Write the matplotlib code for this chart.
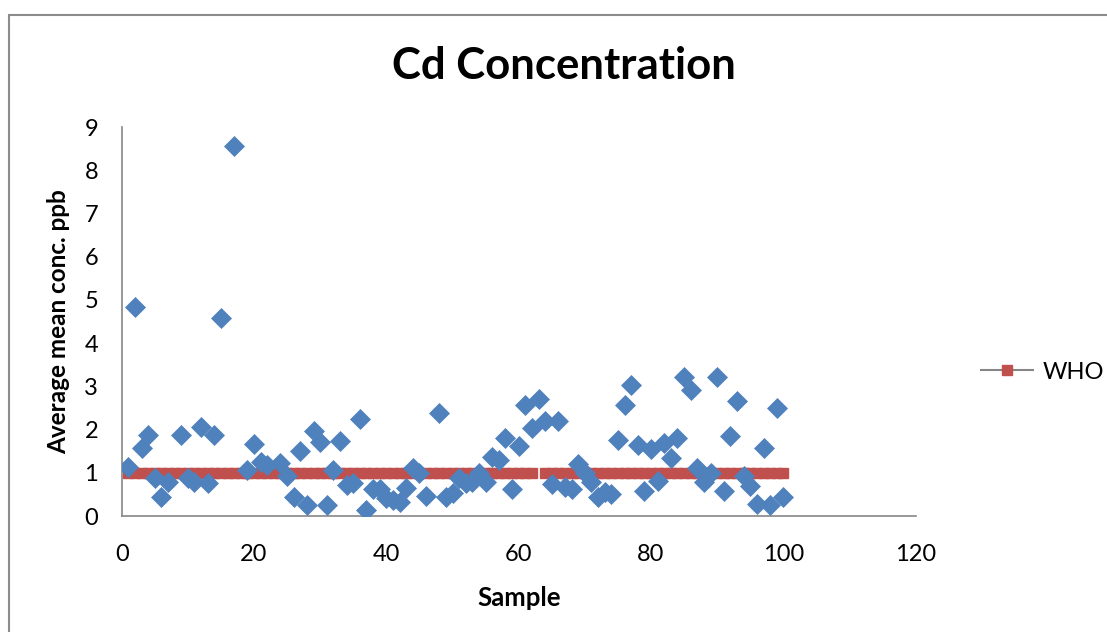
import matplotlib
matplotlib.use("Agg")
import matplotlib.pyplot as plt
import matplotlib.patches as mpatches
from matplotlib.lines import Line2D
import numpy as np

plt.rcParams['font.family'] = ['Lato', 'DejaVu Sans']

# measured Cd per sample (blank cells left out)
sample = [1, 2, 3, 4, 5, 6, 7, 9, 10, 11, 12, 13, 14, 15, 17, 19, 20, 21, 22,
          24, 25, 26, 27, 28, 29, 30, 31, 32, 33, 34, 35, 36, 37, 38, 39, 40,
          41, 42, 43, 44, 45, 46, 48, 49, 50, 51, 52, 53, 54, 55, 56, 57, 58,
          59, 60, 61, 62, 63, 64, 65, 66, 67, 68, 69, 70, 71, 72, 73, 74, 75,
          76, 77, 78, 79, 80, 81, 82, 83, 84, 85, 86, 87, 88, 89, 90, 91, 92,
          93, 94, 95, 96, 97, 98, 99, 100]
cd_ppb = [1.14, 4.83, 1.58, 1.88, 0.87, 0.43, 0.79, 1.88, 0.87, 0.79, 2.06,
          0.77, 1.87, 4.58, 8.56, 1.06, 1.66, 1.26, 1.18, 1.23, 0.93, 0.43,
          1.50, 0.25, 1.97, 1.71, 0.25, 1.06, 1.73, 0.72, 0.77, 2.25, 0.14,
          0.62, 0.62, 0.41, 0.37, 0.33, 0.66, 1.10, 1.00, 0.47, 2.39, 0.45,
          0.54, 0.87, 0.76, 0.79, 1.00, 0.79, 1.37, 1.30, 1.81, 0.62, 1.62,
          2.58, 2.03, 2.70, 2.20, 0.73, 2.20, 0.68, 0.62, 1.20, 0.99, 0.79,
          0.45, 0.56, 0.50, 1.76, 2.58, 3.03, 1.64, 0.58, 1.54, 0.81, 1.68,
          1.35, 1.81, 3.21, 2.92, 1.10, 0.79, 1.00, 3.21, 0.58, 1.84, 2.65,
          0.93, 0.69, 0.28, 1.58, 0.25, 2.51, 0.43]

# WHO guideline series, one entry per sample, sample 63 empty
who_limit = 1.0
who_x = np.arange(1, 101)
who_y = np.full(100, who_limit)
who_y[62] = np.nan

xticks = [0, 20, 40, 60, 80, 100, 120]
yticks = [0, 1, 2, 3, 4, 5, 6, 7, 8, 9]

blue = '#4F81BD'
red = '#C0504D'
grey = '#868686'

fig = plt.figure(figsize=(11.07, 6.32), dpi=100)
ax = fig.add_axes([0.1099, 0.1835, 0.7173, 0.6155])

ax.plot(who_x, who_y, color=grey, lw=1.5, marker='s', ms=6.5,
        mfc=red, mec=red, zorder=2)
ax.plot(sample, cd_ppb, ls='none', marker='D', ms=10, mfc=blue,
        mec=blue, mew=0.5, zorder=3)

ax.set_xlim(0, 120)
ax.set_ylim(0, 9)
ax.set_xticks(xticks)
ax.set_yticks(yticks)
ax.tick_params(length=0, labelsize=17)
ax.tick_params(axis='y', pad=17)
ax.tick_params(axis='x', pad=20)
for side in ['top', 'right']:
    ax.spines[side].set_visible(False)
for side in ['left', 'bottom']:
    ax.spines[side].set_color(grey)
    ax.spines[side].set_linewidth(1.2)

ax.set_xlabel('Sample', fontsize=18.5, fontweight='bold', labelpad=15)
ax.set_ylabel('Average mean conc. ppb', fontsize=17.5, fontweight='bold',
              labelpad=10)
fig.text(0.5095, 0.895, 'Cd Concentration', fontsize=31.5, fontweight='bold',
         ha='center', va='center')

handle = Line2D([], [], color=grey, lw=1.5, marker='s', ms=6.5,
                mfc=red, mec=red)
fig.legend([handle], ['WHO'], loc='center left',
           bbox_to_anchor=(0.8777, 0.411), frameon=False, fontsize=17,
           handlelength=2.2, handletextpad=0.42, borderaxespad=0)

# outer chart frame
fig.patches.append(mpatches.Rectangle((9 / 1107, -0.1), 1.0, 1.1 - 15 / 632,
                                      transform=fig.transFigure, fill=False,
                                      edgecolor='#8C8C8C', lw=1.5))

fig.savefig('out.png', dpi=100)
